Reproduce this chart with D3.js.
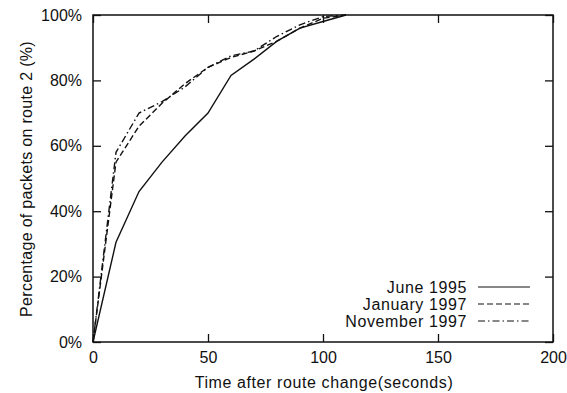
<!DOCTYPE html>
<html>
<head>
<meta charset="utf-8">
<title>route 2 packets</title>
<script src="https://d3js.org/d3.v7.min.js"></script>
<style>
  body { margin: 0; background: #fff; }
  text { font-family: "Liberation Sans", Arial, sans-serif; fill: #111; }
</style>
</head>
<body>
<div id="chart"></div>
<script>
// data
var times = [0, 10, 20, 30, 40, 50, 60, 70, 80, 90, 100, 110];
var june1995 = [0, 30.5, 46, 55, 63, 70, 81.5, 86.5, 92, 96, 98, 100];
var jan1997 = [0, 55, 66, 73, 79, 84, 87, 89, 92, 96, 99, 100];
var nov1997 = [0, 58, 70, 73.5, 78, 84, 87.5, 89, 93.5, 97, 99.5, 100];
var seriesNames = ["June 1995", "January 1997", "November 1997"];
var xTicks = [0, 50, 100, 150, 200];
var yTicks = [0, 20, 40, 60, 80, 100];

var W = 567, H = 393;
var margin = { top: 15, right: 14, bottom: 51, left: 93 };
var width = W - margin.left - margin.right,
    height = H - margin.top - margin.bottom;

var svg = d3.select("#chart").append("svg")
    .attr("width", W).attr("height", H);
var g = svg.append("g")
    .attr("transform", "translate(" + margin.left + "," + margin.top + ")");

var x = d3.scaleLinear().domain([0, 200]).range([0, width]);
var y = d3.scaleLinear().domain([0, 100]).range([height, 0]);

// axes, gnuplot style: ticks pointing inward, mirrored
g.append("g").attr("transform", "translate(0," + height + ")")
    .call(d3.axisBottom(x).tickValues(xTicks).tickSize(-8).tickPadding(10))
    .call(a => a.select(".domain").remove());
g.append("g")
    .call(d3.axisTop(x).tickValues(xTicks).tickSize(-8).tickFormat(""))
    .call(a => a.select(".domain").remove());
g.append("g")
    .call(d3.axisLeft(y).tickValues(yTicks).tickSize(-8).tickPadding(11)
        .tickFormat(d => d + "%"))
    .call(a => a.select(".domain").remove());
g.append("g").attr("transform", "translate(" + width + ",0)")
    .call(d3.axisRight(y).tickValues(yTicks).tickSize(-8).tickFormat(""))
    .call(a => a.select(".domain").remove());

g.selectAll(".tick line").attr("stroke", "#111").attr("stroke-width", 1.3);
g.selectAll(".tick text").style("font-size", "16px")
    .style("font-family", "'Liberation Sans', Arial, sans-serif").attr("fill", "#111");

g.append("rect").attr("width", width).attr("height", height)
    .attr("fill", "none").attr("stroke", "#111").attr("stroke-width", 1.5);

var dashes = [null, "6,3", "7,3,1.5,3"];
var allSeries = [june1995, jan1997, nov1997];

var line = d3.line()
    .x((d, i) => x(times[i]))
    .y(d => y(d));

g.selectAll(".series").data(allSeries).enter().append("path")
    .attr("class", "series")
    .attr("d", d => line(d))
    .attr("fill", "none")
    .attr("stroke", "#111")
    .attr("stroke-width", 1.4)
    .attr("stroke-dasharray", (d, i) => dashes[i]);

// legend
var leg = g.append("g");
seriesNames.forEach(function (name, i) {
    var ly = 287 + i * 17 - margin.top;
    leg.append("text")
        .attr("x", 374).attr("y", ly)
        .attr("dy", "0.35em")
        .attr("text-anchor", "end")
        .style("font-size", "16px")
        .style("letter-spacing", "0.6px")
        .text(name);
    leg.append("line")
        .attr("x1", 385).attr("x2", 437)
        .attr("y1", ly).attr("y2", ly)
        .attr("stroke", "#111").attr("stroke-width", 1.2)
        .attr("stroke-dasharray", dashes[i]);
});

// axis titles
svg.append("text")
    .attr("x", 324).attr("y", 388)
    .attr("text-anchor", "middle")
    .style("font-size", "16px")
    .style("letter-spacing", "0.6px")
    .text("Time after route change(seconds)");
svg.append("text")
    .attr("transform", "translate(32,179) rotate(-90)")
    .attr("text-anchor", "middle")
    .style("font-size", "16px")
    .style("letter-spacing", "0.3px")
    .text("Percentage of packets on route 2 (%)");
</script>
</body>
</html>
